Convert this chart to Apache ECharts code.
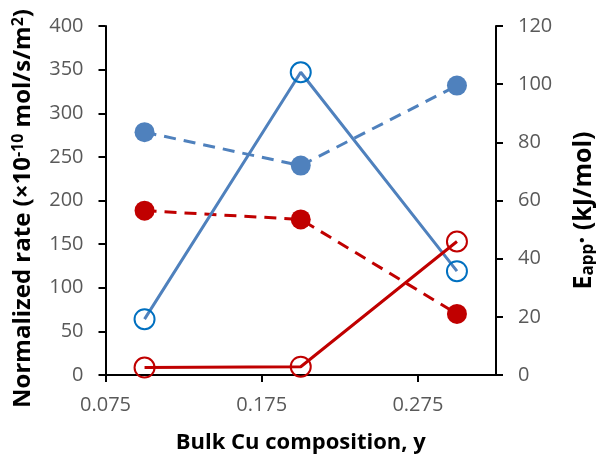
<!DOCTYPE html>
<html>
<head>
<meta charset="utf-8">
<script src="https://cdn.jsdelivr.net/npm/echarts@6/dist/echarts.min.js"></script>
<style>html,body{margin:0;padding:0;background:#fff}#c{width:596px;height:456px}</style>
</head>
<body>
<div id="c"></div>
<script>
const composition = [0.1, 0.2, 0.3];
const xTicks = [0.075, 0.175, 0.275];
const rateBlue = [64, 347, 119];
const rateRed = [8.5, 9.5, 153];
const eappBlue = [83.5, 72, 99.5];
const eappRed = [56.5, 53.5, 21];

const FONT = 'Open Sans';
const pair = arr => composition.map((x, i) => [x, arr[i]]);

const chart = echarts.init(document.getElementById('c'), null, {renderer: 'canvas'});
const axisLine = {show: true, lineStyle: {color: '#000', width: 2}};
const axisTick = {show: true, inside: false, length: 7, lineStyle: {color: '#000', width: 2}};
const labelStyle = {color: '#595959', fontFamily: FONT, fontSize: 20};
const nameStyle = {color: '#000', fontFamily: FONT, fontSize: 22, fontWeight: 'bold'};

chart.setOption({
  animation: false,
  backgroundColor: '#fff',
  grid: {left: 105.5, right: 100, top: 26, bottom: 81, containLabel: false, outerBoundsMode: 'none'},
  xAxis: {
    type: 'value', min: 0.075, max: 0.325,
    name: 'Bulk Cu composition, y', nameLocation: 'middle', nameGap: 57,
    nameTextStyle: nameStyle,
    axisLine: axisLine,
    axisTick: Object.assign({}, axisTick, {customValues: xTicks}),
    axisLabel: Object.assign({}, labelStyle, {customValues: xTicks, margin: 20, formatter: v => String(v)}),
    splitLine: {show: false}
  },
  yAxis: [{
    type: 'value', min: 0, max: 400, interval: 50, position: 'left',
    name: 'Normalized rate (×10{sup|-10} mol/s/m{sup|2})', nameLocation: 'middle', nameGap: 70, nameRotate: 90,
    nameTextStyle: Object.assign({}, nameStyle, {
      fontSize: 24, padding: [0, 16, 0, 0],
      rich: {sup: {fontFamily: FONT, fontSize: 16, fontWeight: 'bold', color: '#000', verticalAlign: 'top', padding: [0, 0, 9, 0]}}
    }),
    axisLine: axisLine, axisTick: axisTick,
    axisLabel: Object.assign({}, labelStyle, {margin: 22}),
    splitLine: {show: false}
  }, {
    type: 'value', min: 0, max: 120, interval: 20, position: 'right',
    name: 'E{sub|app}{sup|·} (kJ/mol)', nameLocation: 'middle', nameGap: 74, nameRotate: 90,
    nameTextStyle: Object.assign({}, nameStyle, {
      fontSize: 25, padding: [0, 20, 0, 0],
      rich: {
        sub: {fontFamily: FONT, fontSize: 17, fontWeight: 'bold', color: '#000', verticalAlign: 'bottom', padding: [10, 0, 0, 0]},
        sup: {fontFamily: FONT, fontSize: 25, fontWeight: 'bold', color: '#000'}
      }
    }),
    axisLine: axisLine, axisTick: axisTick,
    axisLabel: Object.assign({}, labelStyle, {margin: 22}),
    splitLine: {show: false}
  }],
  series: [
    {
      type: 'line', yAxisIndex: 1, data: pair(eappBlue),
      symbol: 'circle', symbolSize: 20,
      lineStyle: {color: '#4F81BD', width: 3, type: [12, 8]},
      itemStyle: {color: '#4F81BD', borderWidth: 0}, z: 2
    },
    {
      type: 'line', yAxisIndex: 1, data: pair(eappRed),
      symbol: 'circle', symbolSize: 20,
      lineStyle: {color: '#C00000', width: 3, type: [12, 8]},
      itemStyle: {color: '#C00000', borderWidth: 0}, z: 2
    },
    {
      type: 'line', yAxisIndex: 0, data: pair(rateBlue),
      symbol: 'circle', symbolSize: 20,
      lineStyle: {color: '#4F81BD', width: 3},
      itemStyle: {color: 'rgba(0,0,0,0)', borderColor: '#0070C0', borderWidth: 2}, z: 3
    },
    {
      type: 'line', yAxisIndex: 0, data: pair(rateRed),
      symbol: 'circle', symbolSize: 20,
      lineStyle: {color: '#C00000', width: 3},
      itemStyle: {color: 'rgba(0,0,0,0)', borderColor: '#C00000', borderWidth: 2}, z: 3
    }
  ]
});
</script>
</body>
</html>
